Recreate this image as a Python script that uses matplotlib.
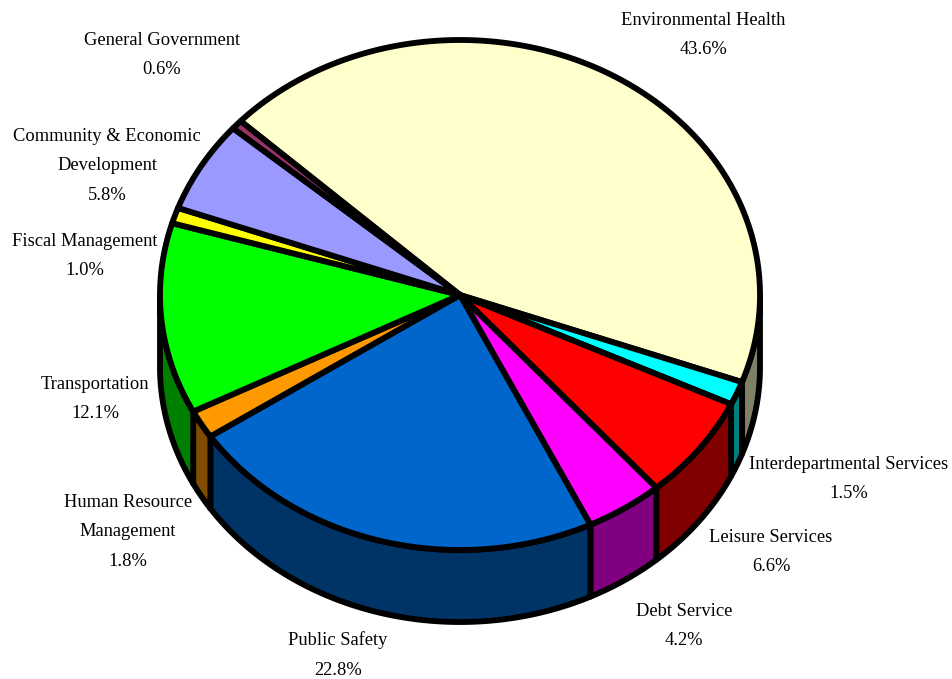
import numpy as np
import matplotlib
matplotlib.use("Agg")
import matplotlib.pyplot as plt
from matplotlib.patches import Polygon

# budget shares, clockwise from the first slice
names = ["Environmental Health", "Interdepartmental Services", "Leisure Services",
         "Debt Service", "Public Safety", "Human Resource\nManagement", "Transportation",
         "Fiscal Management", "Community & Economic\nDevelopment", "General Government"]
shares = [43.6, 1.5, 6.6, 4.2, 22.8, 1.8, 12.1, 1.0, 5.8, 0.6]
top_colors = ["#FFFFCC", "#00FFFF", "#FF0000", "#FF00FF", "#0066CC",
              "#FF9900", "#00FF00", "#FFFF00", "#9999FF", "#993366"]
side_colors = ["#808066", "#008080", "#800000", "#800080", "#003366",
               "#804C00", "#008000", "#808000", "#4C4C80", "#4C1933"]

# label centres in pixels
label_pos = [(703, 35), (849, 479), (771, 552), (684, 626), (338, 655),
             (128, 532), (95, 399), (85, 256), (107, 166), (162, 55)]

CX, CY = 460, 295
RX, RY = 300, 255
DEPTH = 72
START = 137.0
LW = 4.2


def rim(t0, t1):
    n = max(2, int(abs(t1 - t0) * 2))
    t = np.radians(np.linspace(t0, t1, n))
    return CX + RX * np.cos(t), CY - RY * np.sin(t)


fig = plt.figure(figsize=(9.52, 6.79), dpi=100)
ax = fig.add_axes([0, 0, 1, 1])
ax.set_xlim(0, 952)
ax.set_ylim(679, 0)
ax.axis("off")

edges = START - np.cumsum([0] + shares) * 3.6

# side walls first, only the front half of the rim shows
for i in range(len(shares)):
    seg_hi = min(edges[i], 0)
    seg_lo = max(edges[i + 1], -180)
    if seg_hi <= seg_lo:
        continue
    x, y = rim(seg_hi, seg_lo)
    pts = np.r_[np.c_[x, y], np.c_[x[::-1], y[::-1] + DEPTH]]
    ax.add_patch(Polygon(pts, closed=True, fc=side_colors[i], ec="black",
                         lw=LW, joinstyle="round", zorder=2))

# top faces
for i in range(len(shares)):
    x, y = rim(edges[i], edges[i + 1])
    pts = np.r_[[[CX, CY]], np.c_[x, y]]
    ax.add_patch(Polygon(pts, closed=True, fc=top_colors[i], ec="black",
                         lw=LW, joinstyle="round", zorder=3))

for name, share, (lx, ly) in zip(names, shares, label_pos):
    ax.text(lx, ly, f"{name}\n{share:.1f}%", ha="center", va="center",
            multialignment="center", family="Liberation Serif", fontsize=13.3,
            linespacing=1.98, color="black", zorder=5)

fig.savefig("out.png", dpi=100, facecolor="white")
